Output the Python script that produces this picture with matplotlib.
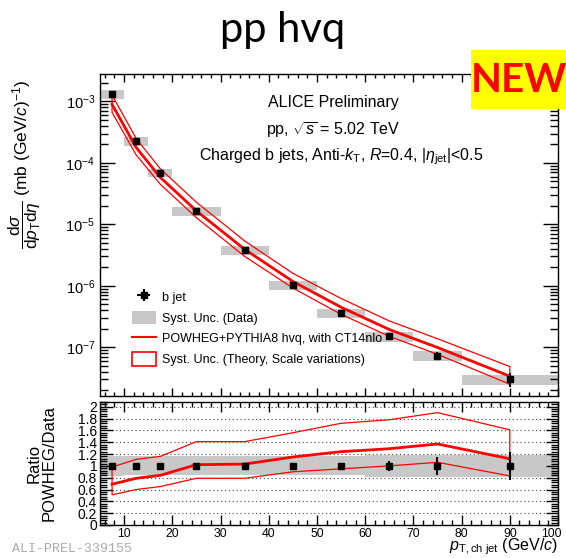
import numpy as np
import matplotlib
matplotlib.use('Agg')
import matplotlib.pyplot as plt
from matplotlib.ticker import MultipleLocator, LogLocator, FuncFormatter, NullFormatter
from matplotlib.patches import Rectangle, Patch
from matplotlib.lines import Line2D
from matplotlib.transforms import ScaledTranslation

plt.rcParams['font.family'] = ['Liberation Sans', 'DejaVu Sans']
plt.rcParams['mathtext.fontset'] = 'custom'
plt.rcParams['mathtext.rm'] = 'Liberation Sans'
plt.rcParams['mathtext.it'] = 'Liberation Sans:italic'
plt.rcParams['mathtext.bf'] = 'Liberation Sans:bold'

# b-jet cross section, pp 5.02 TeV
bin_edges = [5, 10, 15, 20, 30, 40, 50, 60, 70, 80, 100]
pt = [7.5, 12.5, 17.5, 25, 35, 45, 55, 65, 75, 90]
xsec = [1.3e-3, 2.25e-4, 6.9e-5, 1.62e-5, 3.8e-6, 1.02e-6, 3.6e-7, 1.5e-7, 7.2e-8, 3.0e-8]
stat_rel = [0.02, 0.02, 0.02, 0.02, 0.03, 0.03, 0.05, 0.09, 0.15, 0.24]
syst_rel = [0.17, 0.16, 0.16, 0.16, 0.16, 0.16, 0.16, 0.18, 0.18, 0.18]

# POWHEG/data ratio (central, lower and upper scale variations)
ratio_c = [0.69, 0.79, 0.84, 1.02, 1.03, 1.15, 1.24, 1.29, 1.37, 1.12]
ratio_lo = [0.51, 0.60, 0.65, 0.79, 0.79, 0.90, 0.95, 1.00, 1.06, 0.83]
ratio_hi = [0.98, 1.11, 1.16, 1.41, 1.41, 1.56, 1.72, 1.78, 1.90, 1.61]

x_ticks = [10, 20, 30, 40, 50, 60, 70, 80, 90, 100]

pt = np.array(pt)
xsec = np.array(xsec)
stat_rel = np.array(stat_rel)
syst_rel = np.array(syst_rel)
ratio_c = np.array(ratio_c)
ratio_lo = np.array(ratio_lo)
ratio_hi = np.array(ratio_hi)

theo_c = xsec * ratio_c
theo_lo = xsec * ratio_lo
theo_hi = xsec * ratio_hi

gray = '#c8c8c8'
W, H = 566, 558
fig = plt.figure(figsize=(W / 100, H / 100), dpi=100)

def px_axes(l, t, r, b):
    return fig.add_axes([l / W, 1 - b / H, (r - l) / W, (b - t) / H])

ax1 = px_axes(100, 74, 558, 396)
ax2 = px_axes(100, 402, 558, 525)

# ---- top panel ----
for i in range(len(pt)):
    lo, hi = bin_edges[i], bin_edges[i + 1]
    ax1.add_patch(Rectangle((lo, xsec[i] * (1 - syst_rel[i])), hi - lo,
                            xsec[i] * 2 * syst_rel[i], facecolor=gray, edgecolor='none', zorder=1))

ax1.fill(np.concatenate([pt, pt[::-1]]), np.concatenate([theo_hi, theo_lo[::-1]]),
         facecolor='none', edgecolor='red', lw=0.9, zorder=2)
ax1.plot(pt, theo_c, color='red', lw=2, zorder=3)
ax1.errorbar(pt, xsec, yerr=xsec * stat_rel, fmt='s', color='black', ms=3.8,
             elinewidth=1.5, capsize=0, zorder=4)

ax1.set_yscale('log')
ax1.set_xlim(5, 100)
ax1.set_ylim(1.6e-8, 2.8e-3)
ax1.xaxis.set_major_locator(MultipleLocator(10))
ax1.xaxis.set_minor_locator(MultipleLocator(2))
ax1.xaxis.set_major_formatter(NullFormatter())
ax1.yaxis.set_major_locator(LogLocator(base=10, numticks=20))
ax1.yaxis.set_minor_locator(LogLocator(base=10, subs=np.arange(2, 10), numticks=20))
ax1.yaxis.set_minor_formatter(NullFormatter())
ax1.tick_params(which='both', direction='in', top=True, right=True, labelsize=10.5)
ax1.tick_params(axis='y', which='major', length=11, width=1)
ax1.tick_params(axis='y', which='minor', length=6, width=1)
ax1.tick_params(axis='x', which='major', length=6, width=1)
ax1.tick_params(axis='x', which='minor', length=3, width=1)

ax1.text(0.51, 0.91, 'ALICE Preliminary', transform=ax1.transAxes, ha='center', va='center', fontsize=11.5)
ax1.text(0.51, 0.827, r'pp, $\sqrt{s}$ = 5.02 TeV', transform=ax1.transAxes, ha='center', va='center', fontsize=11.5)
ax1.text(0.527, 0.743, r'Charged b jets, Anti-$k_{\mathrm{T}}$, $R$=0.4, |$\eta_{\mathrm{jet}}$|<0.5',
         transform=ax1.transAxes, ha='center', va='center', fontsize=11.5)

h_data = ax1.errorbar([np.nan], [np.nan], xerr=[1], yerr=[1], fmt='s', color='black', ms=3.8,
                      elinewidth=1.5, capsize=0)
handles = [h_data,
           Patch(facecolor=gray, edgecolor='none'),
           Line2D([], [], color='red', lw=1.5),
           Patch(facecolor='white', edgecolor='red', lw=1.2)]
labels = ['b jet', 'Syst. Unc. (Data)', 'POWHEG+PYTHIA8 hvq, with CT14nlo',
          'Syst. Unc. (Theory, Scale variations)']
ax1.legend(handles, labels, loc='upper left', bbox_to_anchor=(0.045, 0.365), frameon=False,
           fontsize=9, handlelength=1.9, handleheight=1.3, labelspacing=0.55, handletextpad=0.5)

ax1.set_ylabel(r'$\dfrac{\mathrm{d}\sigma}{\mathrm{d}p_{\mathrm{T}}\mathrm{d}\eta}$ (mb (GeV/$c$)$^{-1}$)',
               fontsize=12.5)
ax1.yaxis.set_label_coords(-0.125, 0.72)

# ---- ratio panel ----
for i in range(len(pt)):
    lo, hi = bin_edges[i], bin_edges[i + 1]
    ax2.add_patch(Rectangle((lo, 1 - syst_rel[i]), hi - lo, 2 * syst_rel[i],
                            facecolor=gray, edgecolor='none', zorder=1))
for yv in np.arange(0.2, 2.01, 0.2):
    ax2.axhline(yv, color='#444444', lw=0.8, ls=(0, (1, 2.5)), zorder=0.5)

ax2.fill(np.concatenate([pt, pt[::-1]]), np.concatenate([ratio_hi, ratio_lo[::-1]]),
         facecolor='none', edgecolor='red', lw=0.9, zorder=2)
ax2.plot(pt, ratio_c, color='red', lw=2, zorder=3)
ax2.errorbar(pt, np.ones_like(pt), yerr=stat_rel, fmt='s', color='black', ms=3.8,
             elinewidth=1.5, capsize=0, zorder=4)

ax2.set_xlim(5, 100)
ax2.set_ylim(0, 2.08)
ax2.set_xticks(x_ticks, [str(t) for t in x_ticks])
ax2.xaxis.set_minor_locator(MultipleLocator(2))
ax2.yaxis.set_major_locator(MultipleLocator(0.2))
ax2.yaxis.set_minor_locator(MultipleLocator(0.04))
ax2.yaxis.set_major_formatter(FuncFormatter(lambda v, p: '%g' % round(v, 2)))
ax2.tick_params(which='both', direction='in', top=True, right=True, labelsize=10)
ax2.tick_params(axis='x', labelsize=8.8)
ax2.tick_params(axis='y', which='major', length=9, width=1, pad=2)
ax2.tick_params(axis='y', which='minor', length=5, width=1)
ax2.tick_params(axis='x', which='major', length=7, width=1, pad=2.5)
ax2.tick_params(axis='x', which='minor', length=3.5, width=1)
ax2.set_ylabel('Ratio\nPOWHEG/Data', fontsize=12, linespacing=1.0)
ax2.yaxis.set_label_coords(-0.095, 0.5)

# keep the "100" label inside the canvas
last = ax2.get_xticklabels()[-1]
last.set_horizontalalignment('right')
last.set_transform(last.get_transform() + ScaledTranslation(0.04, 0, fig.dpi_scale_trans))

for ax in (ax1, ax2):
    for s in ax.spines.values():
        s.set_linewidth(1.0)

fig.text(558 / W, 1 - 547 / H, r'$p_{\mathrm{T,ch\ jet}}$ (GeV/$c$)', ha='right', va='center', fontsize=11.5)
fig.text(12 / W, 1 - 549 / H, 'ALI-PREL-339155', family='Liberation Mono', color='#aaaaaa',
         fontsize=9.5, ha='left', va='center')

# slide decorations
fig.text(0.5, 1 - 30 / H, 'pp hvq', family='Lato', fontsize=30, ha='center', va='center')
fig.patches.append(Rectangle((471 / W, 1 - 109 / H), (W - 471) / W, 59 / H,
                             transform=fig.transFigure, facecolor='yellow', edgecolor='none', zorder=5))
fig.text(519 / W, 1 - 80 / H, 'NEW', family='Lato', fontweight='bold', color='red',
         fontsize=29, ha='center', va='center', zorder=6)

fig.savefig('out.png', dpi=100)
